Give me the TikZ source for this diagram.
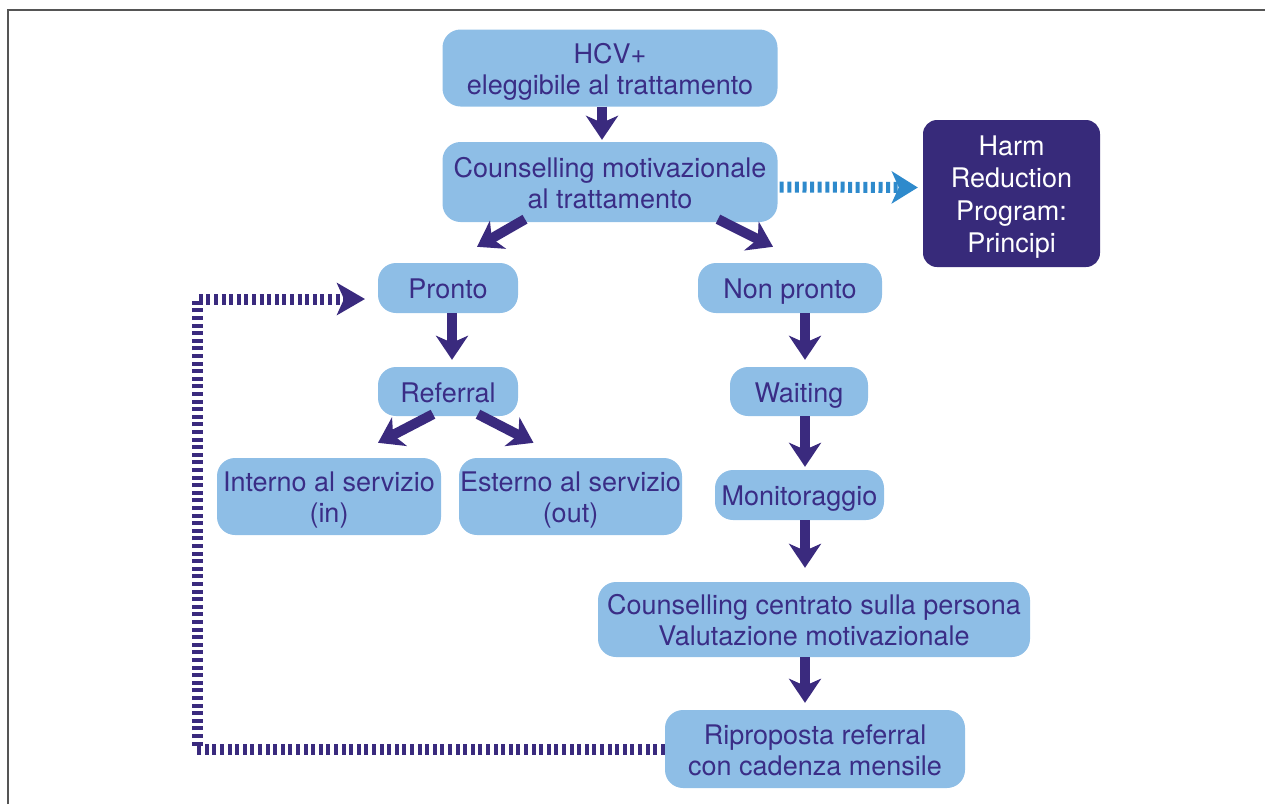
\documentclass[tikz,border=0pt]{standalone}
\usepackage{fontspec}
\setmainfont{TeX Gyre Heros}
\usetikzlibrary{arrows.meta}
\definecolor{txt}{HTML}{3A2D86}
\definecolor{boxblue}{HTML}{8EBEE6}
\definecolor{arrowc}{HTML}{3A2A7E}
\definecolor{harmfill}{HTML}{372A7A}
\definecolor{dashblue}{HTML}{2E8ACC}
\definecolor{framec}{HTML}{555555}
\newcommand{\lyn}[1]{\smash{#1}\rule[-1.5pt]{0pt}{24pt}}
\tikzset{
  box/.style={rounded corners=18pt, fill=boxblue, text=txt, align=center,
    font=\fontsize{27}{31}\selectfont, inner sep=0pt},
  harmbox/.style={rounded corners=14pt, fill=harmfill, text=white, align=center,
    font=\fontsize{27}{32.5}\selectfont, inner sep=0pt},
  bigarrow/.style={line width=10pt, draw=arrowc,
    -{Stealth[length=24pt, width=32pt, inset=7pt]}},
  loopline/.style={line width=11pt, draw=arrowc, dash pattern=on 4pt off 3.6pt,
    -{Stealth[length=28pt, width=32pt, inset=7pt]}},
  blueline/.style={line width=11pt, draw=dashblue, dash pattern=on 4pt off 3.6pt,
    -{Stealth[length=26pt, width=32pt, inset=7pt]}},
}
\begin{document}
\begin{tikzpicture}[x=1pt,y=-1pt]
\useasboundingbox (0,0) rectangle (1265,804);
\draw[line width=2.2pt, framec] (8,804) -- (8,10) -- (1265,10);

\node[box, minimum width=335pt, minimum height=77pt] (hcv) at (610,68) {\lyn{HCV+}\\\lyn{eleggibile al trattamento}};
\node[box, minimum width=335pt, minimum height=80pt] (cm) at (610,182) {\lyn{Counselling motivazionale}\\\lyn{al trattamento}};
\node[harmbox, minimum width=177pt, minimum height=147pt] (harm) at (1011.5,193.5) {\lyn{Harm}\\\lyn{Reduction}\\\lyn{Program:}\\\lyn{Principi}};
\node[box, minimum width=140pt, minimum height=50pt] (pronto) at (448,288) {\lyn{Pronto}};
\node[box, minimum width=184pt, minimum height=50pt] (nonp) at (790,288) {\lyn{Non pronto}};
\node[box, minimum width=140pt, minimum height=49pt] (ref) at (448,391.5) {\lyn{Referral}};
\node[box, minimum width=224pt, minimum height=77pt] (interno) at (329,496.5) {\lyn{Interno al servizio}\\\lyn{(in)}};
\node[box, minimum width=223pt, minimum height=77pt] (esterno) at (570.5,496.5) {\lyn{Esterno al servizio}\\\lyn{(out)}};
\node[box, minimum width=138pt, minimum height=49pt] (wait) at (799,391.5) {\lyn{Waiting}};
\node[box, minimum width=169pt, minimum height=50pt] (mon) at (799.5,495) {\lyn{Monitoraggio}};
\node[box, minimum width=432pt, minimum height=75pt] (ccp) at (814,619.5) {\lyn{Counselling centrato sulla persona}\\\lyn{Valutazione motivazionale}};
\node[box, minimum width=300pt, minimum height=78pt] (rip) at (815,749) {\lyn{Riproposta referral}\\\lyn{con cadenza mensile}};

% solid arrows
\draw[bigarrow] ([xshift=-8pt]hcv.south) -- ([xshift=-8pt,yshift=2pt]cm.north);
\draw[bigarrow] ([xshift=-85pt,yshift=3pt]cm.south) -- ([xshift=29pt,yshift=16pt]pronto.north);
\draw[bigarrow] ([xshift=108pt,yshift=3pt]cm.south) -- ([xshift=-17pt,yshift=16pt]nonp.north);
\draw[bigarrow] ([xshift=4pt]pronto.south) -- ([xshift=4pt,yshift=7pt]ref.north);
\draw[bigarrow] ([xshift=-15pt,yshift=2pt]ref.south) -- ([xshift=49pt,yshift=15pt]interno.north);
\draw[bigarrow] ([xshift=30pt,yshift=2pt]ref.south) -- ([xshift=-37pt,yshift=15pt]esterno.north);
\draw[bigarrow] ([xshift=15pt]nonp.south) -- ([xshift=6pt,yshift=7pt]wait.north);
\draw[bigarrow] ([xshift=6pt]wait.south) -- ([xshift=5.5pt,yshift=3pt]mon.north);
\draw[bigarrow] ([xshift=5.5pt]mon.south) -- ([xshift=-9pt,yshift=14pt]ccp.north);
\draw[bigarrow] ([xshift=-9pt]ccp.south) -- ([xshift=-10pt,yshift=7pt]rip.north);

% dashed connectors
\coordinate (c1) at (197,749);
\coordinate (c2) at (197,299);
\coordinate (loopend) at (365,299);
\draw[loopline] (rip.west) -- (c1) -- (c2) -- (loopend);
\draw[blueline] ([xshift=2pt,yshift=-5pt]cm.east) -- ([xshift=-5pt,yshift=6pt]harm.west);
\end{tikzpicture}
\end{document}
